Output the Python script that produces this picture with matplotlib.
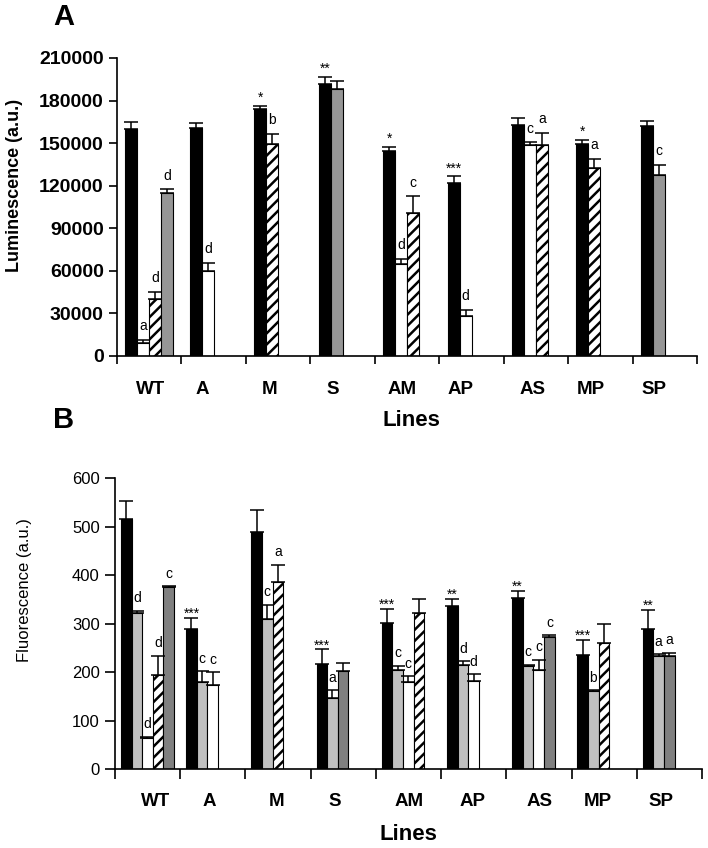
import numpy as np
import matplotlib
matplotlib.use("Agg")
import matplotlib.pyplot as plt

nan = np.nan

lines = ["WT", "A", "M", "S", "AM", "AP", "AS", "MP", "SP"]

# Panel A - luminescence
lum_black = [160000, 160500, 174000, 192000, 144500, 122000, 163000, 149500, 162000]
lum_black_err = [5000, 4000, 2000, 4500, 2500, 4500, 4500, 2500, 3500]
lum_black_sig = ["", "", "*", "**", "*", "***", "", "*", ""]

lum_white = [9000, 60000, nan, nan, 64500, 28500, 148500, nan, nan]
lum_white_err = [2500, 5500, nan, nan, 4000, 4000, 2000, nan, nan]
lum_white_sig = ["a", "d", "", "", "d", "d", "c", "", ""]

lum_hatch = [40000, nan, 149500, nan, 100500, nan, 149000, 132500, nan]
lum_hatch_err = [5000, nan, 7000, nan, 12000, nan, 8000, 6500, nan]
lum_hatch_sig = ["d", "", "b", "", "c", "", "a", "a", ""]

lum_gray = [115000, nan, nan, 188500, nan, nan, nan, nan, 127500]
lum_gray_err = [2500, nan, nan, 5500, nan, nan, nan, nan, 7000]
lum_gray_sig = ["d", "", "", "", "", "", "", "", "c"]

# Panel B - fluorescence
flu_black = [517, 289, 490, 216, 302, 336, 352, 235, 289]
flu_black_err = [36, 23, 45, 31, 28, 15, 15, 31, 39]
flu_black_sig = ["", "***", "", "***", "***", "**", "**", "***", "**"]

flu_light = [323, 179, 309, 146, 204, 215, 213, 161, 234]
flu_light_err = [4, 23, 30, 17, 9, 8, 2, 2, 2.5]
flu_light_sig = ["d", "c", "c", "a", "c", "d", "c", "b", "a"]

flu_white = [65, 173, nan, nan, 180, 182, 204, nan, nan]
flu_white_err = [2, 27, nan, nan, 12, 14, 22, nan, nan]
flu_white_sig = ["d", "c", "", "", "c", "d", "c", "", ""]

flu_hatch = [195, nan, 385, nan, 321, nan, nan, 261, nan]
flu_hatch_err = [39, nan, 37, nan, 30, nan, nan, 38, nan]
flu_hatch_sig = ["d", "", "a", "", "", "", "", "", ""]

flu_dark = [376, nan, nan, 203, nan, nan, 272, nan, 234]
flu_dark_err = [2, nan, nan, 16, nan, nan, 4.5, nan, 6]
flu_dark_sig = ["c", "", "", "", "", "", "c", "", "a"]

plt.rcParams["font.family"] = ["Liberation Sans", "DejaVu Sans"]
plt.rcParams["hatch.linewidth"] = 1.8
plt.rcParams["hatch.color"] = "black"

fig = plt.figure(figsize=(7.08, 8.48), dpi=100)
axA = fig.add_axes([117 / 708, 1 - 356 / 848, 580 / 708, 298 / 848])
axB = fig.add_axes([115 / 708, 1 - 769 / 848, 587 / 708, 290.7 / 848])


def draw_panel(ax, series, width, offset, star_off, letter_off):
    for i in range(len(lines)):
        k = 0
        for vals, errs, sigs, color, hatch in series:
            v = vals[i]
            if np.isnan(v):
                continue
            x = i + offset + k * width + width / 2
            ax.bar(x, v, width, color=color, edgecolor="black", hatch=hatch,
                   linewidth=0.8, zorder=2)
            ax.errorbar(x, v, yerr=[[0], [errs[i]]], fmt="none", ecolor="black",
                        elinewidth=1.1, capsize=5, capthick=1.1, zorder=3)
            s = sigs[i]
            if s:
                off = star_off if s.startswith("*") else letter_off
                ax.annotate(s, (x, v + errs[i]), xytext=(0, off),
                            textcoords="offset points", ha="center",
                            va="baseline", fontsize=10, annotation_clip=False)
            k += 1


def style_axis(ax, ymax, ystep, label_pos, ylab_size, ylab_weight, xpad, tick_len):
    ax.set_xlim(0, len(lines))
    ax.set_ylim(0, ymax)
    for side in ["top", "right"]:
        ax.spines[side].set_visible(False)
    for side in ["left", "bottom"]:
        ax.spines[side].set_linewidth(1.2)
    ax.set_xticks(range(len(lines) + 1))
    ax.set_xticklabels([])
    ax.set_xticks(label_pos, lines, minor=True, fontsize=13.5, fontweight="bold")
    ax.tick_params(axis="x", which="major", direction="out", length=tick_len, width=1.2)
    ax.tick_params(axis="x", which="minor", length=0, pad=xpad)
    yt = np.arange(0, ymax + 1, ystep)
    ax.set_yticks(yt, [str(int(t)) for t in yt], fontsize=ylab_size,
                  fontweight=ylab_weight)
    ax.tick_params(axis="y", direction="out", length=tick_len, width=1.2, pad=4)


seriesA = [
    (lum_black, lum_black_err, lum_black_sig, "black", None),
    (lum_white, lum_white_err, lum_white_sig, "white", None),
    (lum_hatch, lum_hatch_err, lum_hatch_sig, "white", "///"),
    (lum_gray, lum_gray_err, lum_gray_sig, "#969696", None),
]
seriesB = [
    (flu_black, flu_black_err, flu_black_sig, "black", None),
    (flu_light, flu_light_err, flu_light_sig, "#c0c0c0", None),
    (flu_white, flu_white_err, flu_white_sig, "white", None),
    (flu_hatch, flu_hatch_err, flu_hatch_sig, "white", "///"),
    (flu_dark, flu_dark_err, flu_dark_sig, "#808080", None),
]

draw_panel(axA, seriesA, 0.186, 0.13, 3, 7)
draw_panel(axB, seriesB, 0.163, 0.09, 0, 6)

style_axis(axA, 210000, 30000,
           [0.52, 1.32, 2.37, 3.34, 4.42, 5.33, 6.45, 7.36, 8.33],
           14, "bold", 18, 5.5)
style_axis(axB, 600, 100,
           [0.63, 1.44, 2.47, 3.37, 4.51, 5.48, 6.51, 7.41, 8.37],
           12, "normal", 17, 7)

fig.text(64 / 708, 1 - 17 / 848, "A", fontsize=21, fontweight="bold",
         ha="center", va="center")
fig.text(64 / 708, 1 - 420 / 848, "B", fontsize=21, fontweight="bold",
         ha="center", va="center")
fig.text(411 / 708, 1 - 421 / 848, "Lines", fontsize=16, fontweight="bold",
         ha="center", va="center")
fig.text(408 / 708, 1 - 835 / 848, "Lines", fontsize=16, fontweight="bold",
         ha="center", va="center")
fig.text(14.5 / 708, 1 - 185 / 848, "Luminescence (a.u.)", fontsize=13,
         fontweight="bold", rotation=90, ha="center", va="center")
fig.text(25 / 708, 1 - 590 / 848, "Fluorescence (a.u.)", fontsize=12,
         rotation=90, ha="center", va="center")

fig.savefig("out.png", dpi=100, facecolor="white")
